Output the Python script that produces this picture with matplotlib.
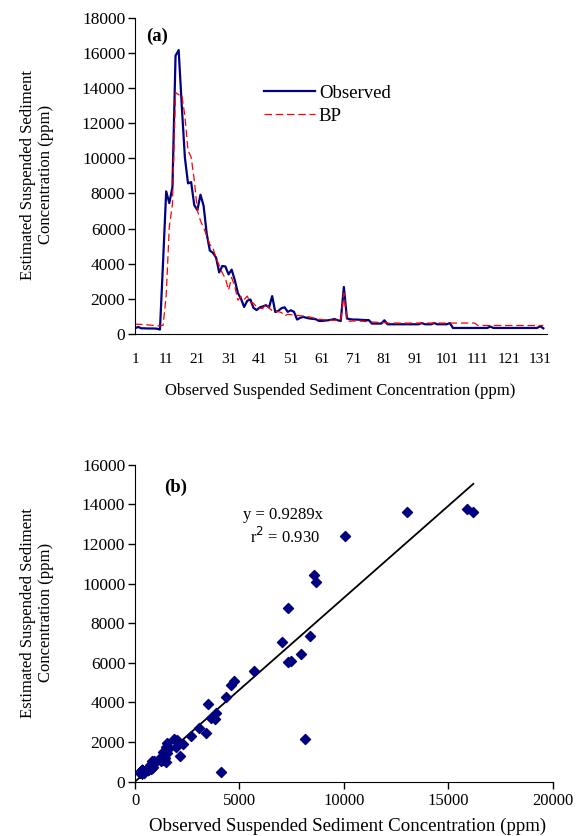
import numpy as np
import matplotlib
matplotlib.use("Agg")
import matplotlib.pyplot as plt

plt.rcParams['font.family'] = ['Liberation Serif', 'DejaVu Serif']

## data (ppm), sample index 1..132
observed = [300, 380, 300, 300, 290, 290, 290, 280, 230, 4100,
            8120, 7450, 8360, 15870, 16190, 13000, 10050, 8580, 8650, 7340,
            7050, 7930, 7300, 5700, 4740, 4610, 4340, 3490, 3860, 3830,
            3380, 3650, 3060, 2310, 1990, 1520, 1870, 1950, 1470, 1340,
            1490, 1550, 1620, 1500, 2140, 1230, 1300, 1450, 1500, 1240,
            1330, 1240, 800, 900, 950, 900, 860, 840, 820, 720,
            720, 740, 760, 790, 830, 760, 720, 2660, 860, 820,
            800, 800, 790, 780, 770, 770, 570, 570, 570, 570,
            760, 530, 530, 530, 530, 530, 530, 530, 530, 530,
            530, 530, 600, 530, 530, 530, 600, 530, 530, 530,
            530, 600, 320, 320, 320, 320, 320, 320, 320, 320,
            320, 320, 320, 320, 400, 320, 320, 320, 320, 320,
            320, 320, 320, 320, 320, 320, 320, 320, 320, 320,
            420, 300]

bp = [540, 530, 520, 510, 500, 480, 470, 450, 430, 475,
      2160, 6100, 7380, 13770, 13640, 13640, 12420, 10450, 10080, 8790,
      7040, 6440, 6050, 5590, 5090, 4890, 4300, 3910, 3460, 3150,
      2480, 3200, 2700, 1905, 2110, 1940, 2140, 1770, 1740, 1520,
      1450, 1430, 1700, 1450, 1315, 1260, 1250, 1200, 1010, 1100,
      1080, 1050, 1040, 1020, 1000, 980, 950, 900, 860, 820,
      800, 780, 770, 760, 760, 760, 760, 2310, 760, 700,
      720, 720, 710, 700, 690, 680, 660, 650, 640, 630,
      620, 600, 600, 600, 600, 600, 600, 600, 600, 600,
      600, 600, 600, 600, 600, 600, 600, 600, 600, 600,
      600, 600, 600, 600, 600, 600, 600, 600, 600, 600,
      460, 460, 460, 460, 460, 460, 460, 460, 460, 460,
      460, 460, 460, 460, 460, 460, 460, 460, 460, 460,
      460, 460]

sample = np.arange(1, len(observed) + 1)
slope = 0.9289
r2 = 0.930

ylab = "Estimated Suspended Sediment\nConcentration (ppm)"
xlab = "Observed Suspended Sediment Concentration (ppm)"
navy = "#000080"

fig = plt.figure(figsize=(5.82, 8.36), dpi=100)

## (a) time series
ax1 = fig.add_axes([0.232, 0.601, 0.708, 0.377])
ax1.plot(sample, observed, color=navy, lw=1.6, label="Observed")
ax1.plot(sample, bp, color="red", lw=0.9, ls=(0, (6, 3)), label="BP")
ax1.set_xlim(1, 133.2)
ax1.set_ylim(0, 18000)
ax1.set_yticks(np.arange(0, 18001, 2000))
ax1.set_xticks(np.arange(1, 132, 10))
ax1.set_xticks(np.arange(1, 132, 20), minor=True)
ax1.tick_params(axis="x", which="major", length=0, pad=14, labelsize=11)
ax1.tick_params(axis="x", which="minor", length=5, width=1, direction="out")
ax1.tick_params(axis="y", length=5, width=1, direction="out", labelsize=12.5, pad=2)
for s in ["top", "right"]:
    ax1.spines[s].set_visible(False)
ax1.text(8, 17000, "(a)", fontsize=13.5, fontweight="bold", ha="center", va="center")
ax1.legend(loc="upper left", bbox_to_anchor=(0.273, 0.843), frameon=False,
           fontsize=13.5, handlelength=2.7, handletextpad=0.2, labelspacing=0.3)

## (b) scatter
ax2 = fig.add_axes([0.232, 0.065, 0.718, 0.379])
ax2.scatter(observed, bp, marker="D", s=26, color=navy, zorder=3)
xl = np.array([0, max(observed)])
ax2.plot(xl, slope * xl, color="black", lw=1.3)
ax2.set_xlim(0, 20000)
ax2.set_ylim(0, 16000)
ax2.set_xticks(np.arange(0, 20001, 5000))
ax2.set_yticks(np.arange(0, 16001, 2000))
ax2.tick_params(axis="x", length=5, width=1, direction="out", labelsize=12)
ax2.tick_params(axis="y", length=5, width=1, direction="out", labelsize=12.5, pad=2)
for s in ["top", "right"]:
    ax2.spines[s].set_visible(False)
ax2.text(1960, 14840, "(b)", fontsize=13.5, fontweight="bold", ha="center", va="center")
ax2.text(7080, 13480, "y = %.4fx" % slope, fontsize=12, ha="center", va="center")
ax2.text(7180, 12370, "r$^2$ = %.3f" % r2, fontsize=12, ha="center", va="center")

fig.text(0.064, 0.791, ylab, rotation=90, ha="center", va="center", fontsize=12, multialignment="center")
fig.text(0.064, 0.267, ylab, rotation=90, ha="center", va="center", fontsize=12, multialignment="center")
fig.text(0.584, 0.532, xlab, ha="center", va="center", fontsize=12)
fig.text(0.598, 0.012, xlab, ha="center", va="center", fontsize=13.6)

plt.savefig("out.png", dpi=100)
plt.close()
